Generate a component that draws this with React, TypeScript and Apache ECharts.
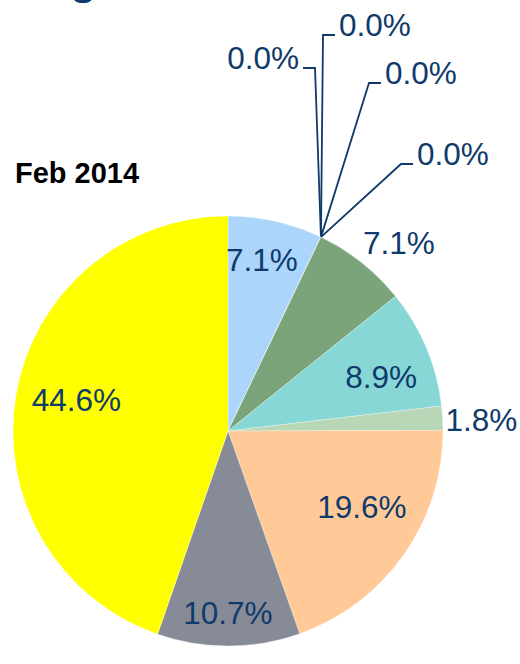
import React, { useEffect, useRef } from 'react';
import * as echarts from 'echarts';

// ---- data ----
const categories = ['Slice 1', 'Slice 2', 'Slice 3', 'Slice 4', 'Slice 5', 'Slice 6', 'Slice 7', 'Slice 8', 'Slice 9', 'Slice 10', 'Slice 11'];
const percentValues = [7.1, 0.0, 0.0, 0.0, 0.0, 7.1, 8.9, 1.8, 19.6, 10.7, 44.6];
const chartTitle = 'Feb 2014';

// ---- styles ----
const sliceColors = ['#ABD5FA', '#7BA47A', '#87D7D7', '#B7D7B6', '#FFCA97', '#878B97', '#FFFF00'];
const colorForIndex = [0, 0, 0, 0, 0, 1, 2, 3, 4, 5, 6];
const LABEL_COLOR = '#0F3A6B';
const FONT = '"Liberation Sans", Arial, sans-serif';

// ---- layout ----
const CX = 228;
const CY = 431;
const R = 215;
// label placement for non-zero slices: radial fraction and angle tweak (deg)
const labelRadial: Record<number, [number, number]> = {
  0: [0.81, -1.6],
  5: [1.18, 3.9],
  6: [0.755, 3.3],
  7: [1.18, 0.9],
  8: [0.716, -5.6],
  9: [0.847, 0.2],
  10: [0.72, 2.0],
};
// leader-line elbows for the zero-value slices: [elbowX, elbowY, dir]
const zeroElbows: [number, number, number][] = [
  [315, 68, -1],
  [323, 35, 1],
  [369, 83, 1],
  [401, 164, 1],
];

export default function App() {
  const ref = useRef<HTMLDivElement>(null);
  useEffect(() => {
    document.body.style.margin = '0';
    const chart = echarts.init(ref.current!, null, { renderer: 'svg' });
    const total = percentValues.reduce((a, b) => a + b, 0);
    const mids: number[] = [];
    let acc = 0;
    percentValues.forEach((v) => {
      const span = (v / total) * 360;
      mids.push(acc + span / 2);
      acc += span;
    });
    const polar = (deg: number, rad: number) => [
      CX + rad * Math.sin((deg * Math.PI) / 180),
      CY - rad * Math.cos((deg * Math.PI) / 180),
    ];
    const zeroOrder: Record<number, number> = {};
    let z = 0;
    percentValues.forEach((v, i) => {
      if (v === 0) zeroOrder[i] = z++;
    });

    chart.setOption({
      animation: false,
      graphic: [
        {
          type: 'text',
          x: 70,
          y: -22,
          silent: true,
          style: { text: 'g', fontSize: 44, fontWeight: 'bold', fontFamily: FONT, fill: '#0F3A6B', verticalAlign: 'middle' },
        },
        {
          type: 'text',
          x: 15,
          y: 173,
          silent: true,
          style: { text: chartTitle, fontSize: 29, fontWeight: 'bold', fontFamily: FONT, fill: '#000', verticalAlign: 'middle' },
        },
      ],
      series: [
        {
          type: 'pie',
          center: [CX, CY],
          radius: R,
          startAngle: 90,
          clockwise: true,
          silent: true,
          avoidLabelOverlap: false,
          minShowLabelAngle: 0,
          itemStyle: { borderColor: 'rgba(255,255,255,0.5)', borderWidth: 0.6 },
          label: {
            show: true,
            position: 'outside',
            overflow: 'none',
            formatter: (p: any) => Number(p.value).toFixed(1) + '%',
            color: LABEL_COLOR,
            fontSize: 31.5,
            fontFamily: FONT,
          },
          labelLine: {
            show: true,
            length: 10,
            length2: 10,
            lineStyle: { color: LABEL_COLOR, width: 1.8 },
          },
          labelLayout: (p: any) => {
            const i = p.dataIndex;
            if (percentValues[i] === 0) {
              const [ex, ey, dir] = zeroElbows[zeroOrder[i]];
              const start = polar(mids[i], R);
              const endX = ex + dir * 12;
              return {
                x: endX + dir * 4,
                y: ey - 10,
                align: dir < 0 ? 'right' : 'left',
                verticalAlign: 'middle',
                labelLinePoints: [start, [ex, ey], [endX, ey]],
              };
            }
            const [f, dt] = labelRadial[i] || [0.7, 0];
            const [x, y] = polar(mids[i] + dt, R * f);
            return { x, y, align: 'center', verticalAlign: 'middle' };
          },
          data: percentValues.map((v, i) => ({
            name: categories[i],
            value: v,
            itemStyle: { color: sliceColors[colorForIndex[i]] },
            labelLine: { show: v === 0 },
          })),
        },
      ],
    });
    return () => chart.dispose();
  }, []);
  return <div ref={ref} style={{ width: 520, height: 664 }} />;
}
